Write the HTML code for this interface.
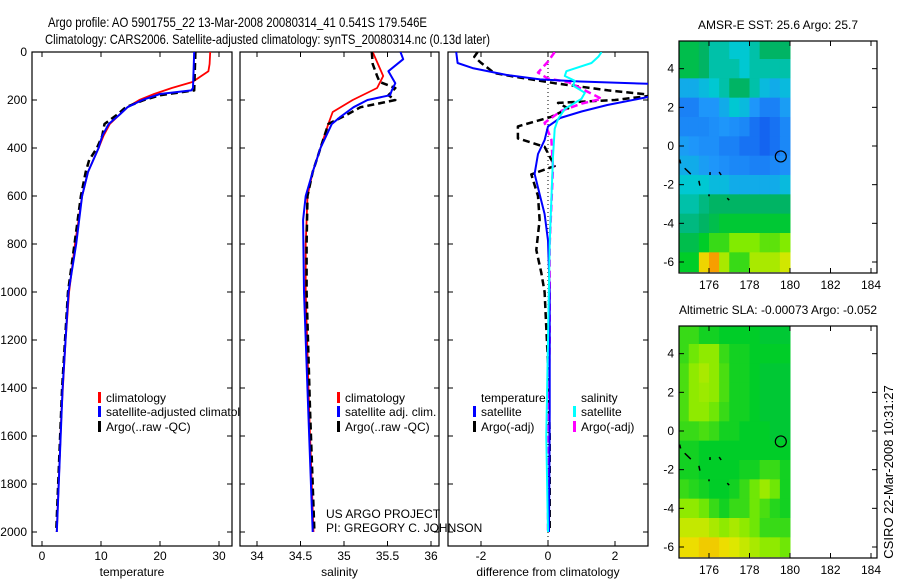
<!DOCTYPE html>
<html><head><meta charset="utf-8"><style>
html,body{margin:0;padding:0;background:#fff;}
svg{display:block;font-family:"Liberation Sans",sans-serif;}
</style></head><body>
<svg id="fig" width="900" height="580" viewBox="0 0 900 580">
<text x="48" y="27" font-size="14" textLength="379" lengthAdjust="spacingAndGlyphs">Argo profile: AO 5901755_22 13-Mar-2008 20080314_41 0.541S 179.546E</text>
<text x="45" y="44" font-size="14" textLength="445" lengthAdjust="spacingAndGlyphs">Climatology: CARS2006. Satellite-adjusted climatology: synTS_20080314.nc (0.13d later)</text>
<g id="plots"></g>
<text transform="translate(893,472) rotate(-90)" text-anchor="middle" font-size="13">CSIRO 22-Mar-2008 10:31:27</text>
</svg>
<script>
// ---------- data ----------
const depthTicks=[0,200,400,600,800,1000,1200,1400,1600,1800,2000];
const tempTicks=[0,10,20,30];
const salTicks=[34,34.5,35,35.5,36];
const diffTicks=[-2,0,2];

const tempClimDepth=[0,50,80,100,125,150,175,200,230,260,300,350,400,500,600,700,800,1000,1200,1500,2000];
const tempClim=[28.5,28.4,28.2,27,25.5,22,19,16.5,14.5,13.2,11.5,10.4,9.6,7.8,6.8,6.2,5.6,4.6,4,3.3,2.5];
const tempSatDepth=[0,150,160,175,200,230,260,300,350,400,500,600,800,1000,1400,2000];
const tempSat=[25.8,25.6,25.3,20,17,14.5,13.2,11.3,10.2,9.6,7.8,6.8,5.8,4.5,3.5,2.5];
const tempArgoDepth=[0,160,180,200,230,260,300,350,400,450,500,600,800,1000,1400,2000];
const tempArgo=[26,25.8,20,17.3,14.2,12.8,10.6,10.2,9.3,8,7.4,6.6,5.5,4.4,3.4,2.4];

const salClimDepth=[0,100,150,200,250,300,400,500,600,800,1000,1500,2000];
const salClim=[35.33,35.45,35.38,35.1,34.87,34.82,34.73,34.64,34.58,34.56,34.56,34.6,34.65];
const salSatDepth=[0,30,80,130,160,180,200,230,270,300,400,500,600,700,1000,1500,2000];
const salSat=[35.65,35.68,35.51,35.59,35.55,35.53,35.27,35.11,34.96,34.86,34.73,34.64,34.56,34.53,34.54,34.59,34.64];
const salArgoDepth=[0,50,100,125,150,180,200,210,230,260,300,400,500,600,800,1000,1500,2000];
const salArgo=[35.32,35.33,35.38,35.41,35.59,35.51,35.59,35.46,35.19,35.04,34.82,34.73,34.64,34.58,34.57,34.57,34.61,34.66];

const dTempSatDepth=[0,46,67,96,114,123,133,160,187,221,248,275,310,367,425,508,592,675,786,1000,1500,2000];
const dTempSat=[-2.74,-2.7,-2.25,-1.23,-0.24,0.96,3.1,3.2,3.0,1.77,1.0,0.36,0,-0.1,-0.3,-0.4,-0.25,-0.1,0,0.05,0.05,0.03];
const dTempArgoDepth=[0,20,45,88,103,130,160,180,200,212,235,270,310,360,395,475,510,600,700,825,920,1000,1300,1600,2000];
const dTempArgo=[-2.1,-2.2,-2.0,-1.6,-1.0,0.2,1.8,3.2,2.0,0.3,0.6,0.1,-0.9,-0.9,-0.1,0.2,-0.5,-0.3,-0.25,-0.35,-0.2,-0.1,0,0.05,0.05];
const dSalSatDepth=[0,20,46,80,100,120,140,170,195,237,280,320,435,800,1200,1600,2000];
const dSalSat=[1.6,1.5,1.3,0.55,0.5,0.8,0.75,1.1,1.0,0.5,0.3,0.2,0.15,0.05,0,-0.05,0];
const dSalArgoDepth=[0,40,86,111,125,160,195,215,245,295,365,480,800,1200,1600,2000];
const dSalArgo=[0.2,0.0,-0.3,0,0.6,1.1,1.6,1.0,0.4,-0.1,0.1,0.15,0.05,0.05,0,0];

const mapLonTicks=[176,178,180,182,184];
const mapLatTicks=[-6,-4,-2,0,2,4];
// rows from lat 5.5 (top) to -6.5, columns lon 174.5..180 step 0.5
const sstGrid=[
[.52,.52,.5,.45,.45,.42,.42,.45,.5,.5,.5],
[.52,.52,.5,.45,.45,.45,.42,.45,.45,.45,.45],
[.38,.38,.4,.42,.45,.5,.5,.45,.4,.38,.4],
[.32,.32,.35,.35,.38,.42,.4,.35,.32,.32,.36],
[.33,.33,.33,.34,.35,.34,.33,.3,.28,.3,.33],
[.36,.35,.34,.34,.32,.32,.3,.3,.28,.3,.33],
[.38,.38,.36,.35,.34,.33,.33,.32,.32,.33,.34],
[.42,.42,.42,.4,.4,.38,.38,.38,.38,.38,.4],
[.45,.45,.48,.5,.5,.5,.5,.5,.5,.5,.5],
[.48,.48,.5,.52,.54,.54,.54,.54,.54,.54,.54],
[.52,.52,.55,.58,.58,.62,.62,.62,.6,.6,.62],
[.55,.55,.72,.78,.65,.58,.58,.65,.65,.65,.68]];
const slaGrid=[
[.58,.58,.56,.56,.55,.55,.55,.55,.54,.54,.54],
[.58,.61,.63,.63,.58,.56,.56,.55,.55,.55,.55],
[.59,.63,.65,.63,.59,.56,.56,.55,.54,.54,.54],
[.59,.63,.64,.63,.59,.56,.56,.55,.54,.54,.54],
[.59,.63,.63,.61,.58,.56,.56,.55,.54,.54,.54],
[.58,.58,.59,.58,.56,.56,.55,.55,.55,.54,.54],
[.56,.56,.55,.55,.55,.55,.55,.55,.55,.55,.55],
[.56,.56,.55,.55,.55,.55,.56,.56,.58,.58,.56],
[.58,.57,.56,.55,.55,.56,.58,.61,.64,.61,.56],
[.63,.63,.61,.58,.56,.58,.58,.61,.59,.57,.56],
[.67,.67,.67,.65,.63,.65,.63,.61,.58,.58,.58],
[.71,.71,.73,.73,.71,.69,.67,.65,.63,.63,.61]];
const floatLon=179.546, floatLat=-0.541;

// ---------- helpers ----------
const NS='http://www.w3.org/2000/svg';
const root=document.getElementById('plots');
function mk(tag,attrs,parent){const e=document.createElementNS(NS,tag);for(const k in attrs)e.setAttribute(k,attrs[k]);(parent||root).appendChild(e);return e;}
function lin(d0,d1,r0,r1){return v=>r0+(v-d0)*(r1-r0)/(d1-d0);}
const yDepth=lin(0,2000,52,532);

function panel(name,x0,x1,xs,ticks,fmt,label,showY){
  const g=mk('g',{});
  
  
  const cp=mk('clipPath',{id:'clip-'+name},g);
  mk('rect',{x:x0,y:52,width:x1-x0,height:494},cp);
  const r=mk('rect',{x:x0,y:52,width:x1-x0,height:494,fill:'#fff',stroke:'#000','stroke-width':1.2},g);
  
  
  ticks.forEach(t=>{const x=xs(t);
    mk('line',{x1:x,x2:x,y1:52,y2:57,stroke:'#000'},g);
    mk('line',{x1:x,x2:x,y1:546,y2:541,stroke:'#000'},g);
    const tx=mk('text',{x:x,y:560,'text-anchor':'middle','font-size':12},g);
    tx.textContent=fmt(t);
    
    
  });
  depthTicks.forEach(d=>{const y=yDepth(d);
    mk('line',{x1:x0,x2:x0+5,y1:y,y2:y,stroke:'#000'},g);
    mk('line',{x1:x1,x2:x1-5,y1:y,y2:y,stroke:'#000'},g);
    if(showY){const tx=mk('text',{x:27,y:y+4,'text-anchor':'end','font-size':12},g);
      tx.textContent=d;
      
      }
  });
  const lb=mk('text',{x:(x0+x1)/2,y:576,'text-anchor':'middle','font-size':12},g);
  lb.textContent=label;
  
  
  return {g,clip:'url(#clip-'+name+')'};
}
function series(p,xs,vals,depths,color,dash,w,name){
  const pts=vals.map((v,i)=>xs(v).toFixed(1)+','+yDepth(depths[i]).toFixed(1)).join(' ');
  const a={points:pts,fill:'none',stroke:color,'stroke-width':w,'clip-path':p.clip,'stroke-linejoin':'round'};
  if(dash)a['stroke-dasharray']=dash;
  const l=mk('polyline',a,p.g);
  
  
}
function legendEntry(g,x,y,color,text,name){
  const b=mk('rect',{x:x,y:y-10,width:3,height:11,fill:color},g);
  const t=mk('text',{x:x+8,y:y,'font-size':12},g);
  t.textContent=text;
  
  
  
  
}

// ---------- panel 1: temperature ----------
const xT=lin(0,10,42,101);
const p1=panel('temperature-panel',32,232,xT,tempTicks,String,'temperature',true);
series(p1,xT,tempClim,tempClimDepth,'#f00',null,1.8,'temp-climatology-line');
series(p1,xT,tempArgo,tempArgoDepth,'#000','7,4',2.5,'temp-argo-line');
series(p1,xT,tempSat,tempSatDepth,'#00f',null,2,'temp-satellite-line');
const lg1=mk('g',{},p1.g);


legendEntry(lg1,98,402,'#f00','climatology','legend-climatology');
legendEntry(lg1,98,416,'#00f','satellite-adjusted climatology','legend-satellite-adjusted');
legendEntry(lg1,98,431,'#000','Argo(..raw -QC)','legend-argo');

// ---------- panel 2: salinity ----------
const xS=lin(34,35,257,344);
const p2=panel('salinity-panel',240,439,xS,salTicks,String,'salinity',false);
series(p2,xS,salClim,salClimDepth,'#f00',null,1.8,'sal-climatology-line');
series(p2,xS,salArgo,salArgoDepth,'#000','7,4',2.5,'sal-argo-line');
series(p2,xS,salSat,salSatDepth,'#00f',null,2,'sal-satellite-line');
const lg2=mk('g',{},p2.g);


legendEntry(lg2,337,402,'#f00','climatology','legend-climatology');
legendEntry(lg2,337,416,'#00f','satellite adj. clim.','legend-satellite-adj');
legendEntry(lg2,337,431,'#000','Argo(..raw -QC)','legend-argo');

// ---------- panel 3: difference ----------
const xD=lin(0,2,548,615);
const p3=panel('difference-panel',448,648,xD,diffTicks,String,'difference from climatology',false);
mk('line',{x1:xD(0),x2:xD(0),y1:52,y2:546,stroke:'#000','stroke-dasharray':'1,3','stroke-width':1},p3.g);
series(p3,xD,dTempArgo,dTempArgoDepth,'#000','7,4',2.5,'diff-temp-argo-line');
series(p3,xD,dSalArgo,dSalArgoDepth,'#f0f','7,4',2.5,'diff-sal-argo-line');
series(p3,xD,dTempSat,dTempSatDepth,'#00f',null,2,'diff-temp-satellite-line');
series(p3,xD,dSalSat,dSalSatDepth,'#0ff',null,2,'diff-sal-satellite-line');
const lg3=mk('g',{},p3.g);


const th=mk('text',{x:481,y:402,'font-size':12},lg3);th.textContent='temperature';
const sh=mk('text',{x:581,y:402,'font-size':12},lg3);sh.textContent='salinity';
legendEntry(lg3,473,416,'#00f','satellite','legend-temp-satellite');
legendEntry(lg3,473,431,'#000','Argo(-adj)','legend-temp-argo');
legendEntry(lg3,573,416,'#0ff','satellite','legend-sal-satellite');
legendEntry(lg3,573,431,'#f0f','Argo(-adj)','legend-sal-argo');

const c1=mk('text',{x:326,y:518,'font-size':12});c1.textContent='US ARGO PROJECT';


const c2=mk('text',{x:326,y:532,'font-size':12});c2.textContent='PI: GREGORY C. JOHNSON';



// ---------- maps ----------
const stops=[[.28,[20,100,240]],[.35,[30,150,250]],[.42,[0,200,210]],[.5,[0,180,100]],[.55,[0,205,40]],[.62,[130,235,0]],[.7,[235,230,0]],[.8,[250,140,0]]];
function cmap(v){
  if(v<=stops[0][0])return 'rgb('+stops[0][1]+')';
  for(let i=1;i<stops.length;i++){if(v<=stops[i][0]){const [a,ca]=stops[i-1],[b,cb]=stops[i];const f=(v-a)/(b-a);
    return 'rgb('+ca.map((c,k)=>Math.round(c+(cb[k]-c)*f)).join(',')+')';}}
  return 'rgb('+stops[stops.length-1][1]+')';
}
const coast=[[174.55,-0.7,174.6,-0.9],[174.8,-1.15,175.1,-1.45],[175.5,-1.8,175.55,-2.05],[176.05,-1.35,176.05,-1.5],[176.5,-1.35,176.6,-1.5],[176.0,-2.5,176.0,-2.6],[176.9,-2.7,177.0,-2.8]];
function drawMap(name,top,grid,title){
  const xL=lin(176,180,709,790), yL=lin(0,-6,top+105,top+221);
  const g=mk('g',{});
  
  
  const bg=mk('rect',{x:679,y:top,width:198,height:232,fill:'#fff'},g);
  
  
  grid.forEach((row,r)=>row.forEach((v,c)=>{
    const lon=174.5+c*0.5, lat=5.5-r;
    const x=Math.max(xL(lon),679), y=Math.max(yL(lat),top);
    const cell=mk('rect',{x:x,y:y,width:xL(lon+0.5)-x+0.5,height:Math.min(yL(lat-1),top+232)-y+0.5,fill:cmap(v)},g);
    
    
  }));
  coast.forEach(s=>mk('line',{x1:xL(s[0]),y1:yL(s[1]),x2:xL(s[2]),y2:yL(s[3]),stroke:'#000','stroke-width':1.5},g));
  const fc=mk('circle',{cx:xL(floatLon),cy:yL(floatLat),r:5.5,fill:'none',stroke:'#000','stroke-width':1.2},g);
  
  
  mk('rect',{x:679,y:top,width:198,height:232,fill:'none',stroke:'#000','stroke-width':1.2},g);
  mapLonTicks.forEach(t=>{const x=xL(t);
    mk('line',{x1:x,x2:x,y1:top,y2:top+5,stroke:'#000'},g);
    mk('line',{x1:x,x2:x,y1:top+232,y2:top+227,stroke:'#000'},g);
    const tx=mk('text',{x:x,y:top+248,'text-anchor':'middle','font-size':12},g);tx.textContent=t;
    
    });
  mapLatTicks.forEach(t=>{const y=yL(t);
    mk('line',{x1:679,x2:684,y1:y,y2:y,stroke:'#000'},g);
    mk('line',{x1:877,x2:872,y1:y,y2:y,stroke:'#000'},g);
    const tx=mk('text',{x:674,y:y+4,'text-anchor':'end','font-size':12},g);tx.textContent=t;
    
    });
  const tt=mk('text',{x:778,y:top-12,'text-anchor':'middle','font-size':12},g);tt.textContent=title;
  
  
}
drawMap('sst-map',41,sstGrid,'AMSR-E SST: 25.6 Argo: 25.7');
drawMap('sla-map',326,slaGrid,'Altimetric SLA: -0.00073 Argo: -0.052');
</script>
</body></html>
